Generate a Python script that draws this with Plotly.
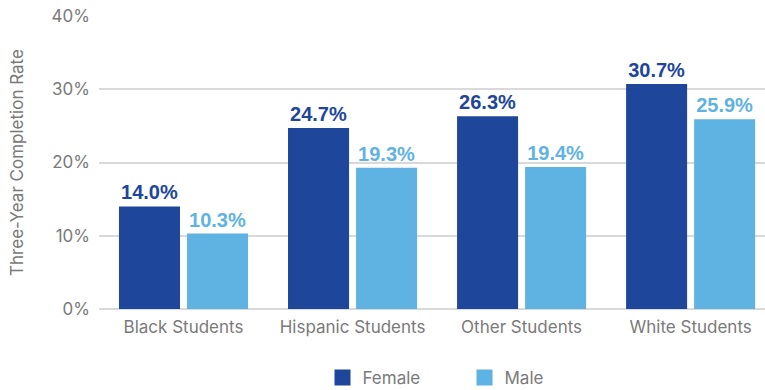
import plotly.graph_objects as go

categories = ["Black Students", "Hispanic Students", "Other Students", "White Students"]
female = [14.0, 24.7, 26.3, 30.7]
male = [10.3, 19.3, 19.4, 25.9]

FEMALE_COLOR = "#1e469b"
MALE_COLOR = "#5fb3e3"
GRAY = "#7a7a7a"
BASE_FONT = "Inter, Roboto, Arial, sans-serif"
LABEL_FONT = "Liberation Sans Narrow, Arial Narrow, sans-serif"

fig = go.Figure()

for name, values, color in [("Female", female, FEMALE_COLOR), ("Male", male, MALE_COLOR)]:
    fig.add_trace(
        go.Bar(
            x=categories,
            y=values,
            name=name,
            marker=dict(color=color, line=dict(width=0)),
            text=[f"{v:.1f}%" for v in values],
            textposition="outside",
            textfont=dict(family=LABEL_FONT, size=20, color=color, weight="bold"),
            cliponaxis=False,
            showlegend=False,
        )
    )
    # legend-only entry with a larger square swatch
    fig.add_trace(
        go.Scatter(
            x=[None],
            y=[None],
            mode="markers",
            name=name,
            marker=dict(symbol="square", size=19, color=color),
        )
    )

fig.update_layout(
    width=765,
    height=390,
    margin=dict(l=99, r=0, t=16, b=81),
    plot_bgcolor="white",
    paper_bgcolor="white",
    barmode="group",
    bargap=0.195,
    bargroupgap=0.103,
    font=dict(family=BASE_FONT, color=GRAY, size=17),
    showlegend=True,
    legend=dict(
        orientation="h",
        x=0.3356,
        xanchor="left",
        yref="container",
        y=0.031,
        yanchor="middle",
        entrywidth=97,
        itemsizing="trace",
        font=dict(family=BASE_FONT, size=17, color=GRAY),
    ),
    xaxis=dict(
        range=[-0.5, 3.44],
        showgrid=False,
        ticks="",
        ticklabelstandoff=6,
        tickfont=dict(family=BASE_FONT, size=17, color=GRAY),
    ),
    yaxis=dict(
        range=[0, 40],
        dtick=10,
        ticksuffix="%",
        showgrid=True,
        gridcolor="#d9d9d9",
        gridwidth=1.5,
        zeroline=True,
        zerolinecolor="#d9d9d9",
        zerolinewidth=1.5,
        tickfont=dict(family=BASE_FONT, size=17, color=GRAY),
        ticklabelstandoff=8,
        title=dict(text="Three-Year Completion Rate", font=dict(family=BASE_FONT, size=17, color=GRAY), standoff=23),
    ),
)

# drop the default 8px page margin so the figure sits flush in the window
fig.write_html(
    "out.html",
    config={"displayModeBar": False},
    post_script="document.body.style.margin='0';",
)
